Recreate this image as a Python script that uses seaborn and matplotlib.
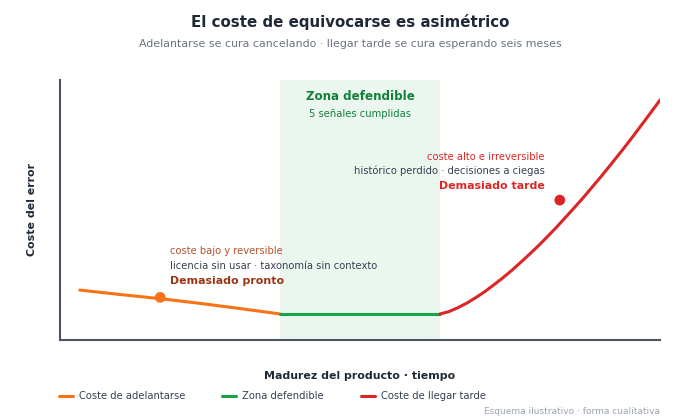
import matplotlib
matplotlib.use("Agg")
import matplotlib.pyplot as plt
from matplotlib.lines import Line2D
import seaborn as sns
import pandas as pd

# --- data (qualitative shape) ---
early_x = [3.3, 10.0, 16.7, 23.3, 30.0, 36.7]
early_y = [19.2, 17.5, 15.9, 14.1, 12.1, 10.0]
zone_x = [36.7, 63.3]
zone_y = [10.0, 10.0]
late_x = [63.3, 64.8, 66.3, 67.8, 69.3, 70.8, 72.3, 73.8, 75.3, 76.8, 78.3, 79.8, 81.3,
          82.8, 84.3, 85.8, 87.3, 88.8, 90.3, 91.8, 93.3, 94.8, 96.3, 97.8, 100.0]
late_y = [10.0, 10.9, 12.4, 14.2, 16.3, 18.6, 21.2, 23.9, 26.8, 29.9, 33.1, 36.4, 39.9,
          43.5, 47.3, 51.1, 55.0, 59.1, 63.2, 67.5, 71.8, 76.2, 80.8, 85.4, 92.3]
zone_span = [36.7, 63.3]
early_pt = (16.7, 16.4)
late_pt = (83.3, 53.8)

series_labels = ["Coste de adelantarse", "Zona defendible", "Coste de llegar tarde"]
colors = ["#f97316", "#16a34a", "#dc2626"]

sns.set_style("white")
plt.rcParams["font.family"] = ["DejaVu Sans"]

fig = plt.figure(figsize=(7, 4.2), dpi=100)
ax = fig.add_axes([60/700, 80/420, 600/700, 260/420])

ax.axvspan(zone_span[0], zone_span[1], color="#ebf7ee", zorder=0, lw=0)

df_e = pd.DataFrame({"x": early_x, "y": early_y})
df_z = pd.DataFrame({"x": zone_x, "y": zone_y})
df_l = pd.DataFrame({"x": late_x, "y": late_y})
for df, c in zip([df_e, df_z, df_l], colors):
    sns.lineplot(data=df, x="x", y="y", ax=ax, color=c, lw=2.2, zorder=3,
                 solid_joinstyle="round", solid_capstyle="round")

sns.scatterplot(x=[early_pt[0]], y=[early_pt[1]], ax=ax, color=colors[0], s=60, edgecolor="none", zorder=4)
sns.scatterplot(x=[late_pt[0]], y=[late_pt[1]], ax=ax, color=colors[2], s=60, edgecolor="none", zorder=4)

ax.set_xlim(0, 100)
ax.set_ylim(0, 100)
ax.set_xticks([])
ax.set_yticks([])
for s in ["top", "right"]:
    ax.spines[s].set_visible(False)
for s in ["left", "bottom"]:
    ax.spines[s].set_color("#4b5563")
    ax.spines[s].set_linewidth(1.5)
ax.set_xlabel("")
ax.set_ylabel("")

# zone labels
ax.text(50, 93.8, "Zona defendible", ha="center", va="center", fontsize=8.6,
        fontweight="bold", color="#15803d")
ax.text(50, 86.9, "5 señales cumplidas", ha="center", va="center", fontsize=7.2,
        color="#15803d")

# early annotation
ax.text(18.3, 34.2, "coste bajo y reversible", ha="left", va="center", fontsize=7.2, color="#b4532f")
ax.text(18.3, 28.5, "licencia sin usar · taxonomía sin contexto", ha="left", va="center", fontsize=7.2, color="#374151")
ax.text(18.3, 22.7, "Demasiado pronto", ha="left", va="center", fontsize=7.9, fontweight="bold", color="#9a3412")

# late annotation
ax.text(80.8, 70.4, "coste alto e irreversible", ha="right", va="center", fontsize=7.2, color="#dc2626")
ax.text(80.8, 65.0, "histórico perdido · decisiones a ciegas", ha="right", va="center", fontsize=7.2, color="#374151")
ax.text(80.8, 59.2, "Demasiado tarde", ha="right", va="center", fontsize=7.9, fontweight="bold", color="#dc2626")

# titles
fig.text(350/700, 1 - 22/420, "El coste de equivocarse es asimétrico", ha="center", va="center",
         fontsize=10.8, fontweight="bold", color="#1f2937")
fig.text(350/700, 1 - 44/420, "Adelantarse se cura cancelando · llegar tarde se cura esperando seis meses",
         ha="center", va="center", fontsize=7.9, color="#6b7280")

# axis labels
fig.text(360/700, 1 - 376/420, "Madurez del producto · tiempo", ha="center", va="center",
         fontsize=7.9, fontweight="bold", color="#1f2937")
fig.text(32/700, 1 - 210/420, "Coste del error", ha="center", va="center", rotation=90,
         fontsize=7.9, fontweight="bold", color="#1f2937")

# legend
handles = [Line2D([0], [0], color=c, lw=2.2) for c in colors]
fig.legend(handles, series_labels, loc="center left", bbox_to_anchor=(55/700, 1 - 396/420),
           ncol=3, frameon=False, fontsize=7.2, handlelength=1.4, handletextpad=0.6,
           columnspacing=3.7, labelcolor="#374151", borderaxespad=0, borderpad=0.4)

fig.text(660/700, 1 - 411/420, "Esquema ilustrativo · forma cualitativa", ha="right", va="center",
         fontsize=6.5, color="#9ca3af")

fig.savefig("out.png", dpi=100)
